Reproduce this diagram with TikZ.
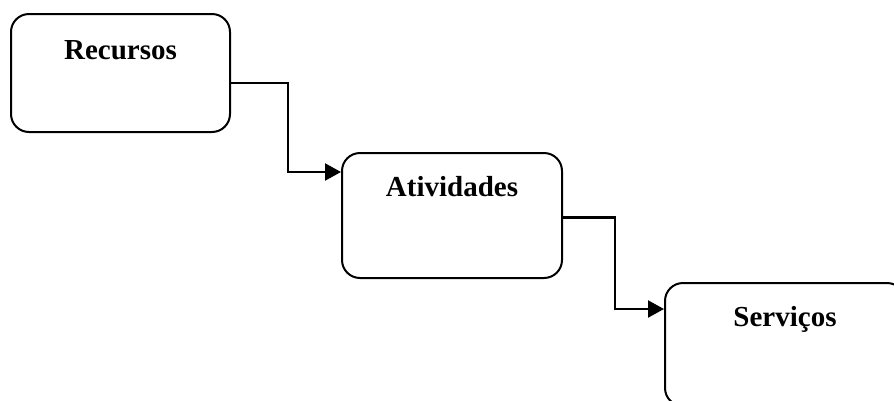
\documentclass[tikz,border=0pt]{standalone}
\usepackage{fontspec}
\setmainfont{Liberation Serif}
\usetikzlibrary{arrows.meta,positioning}

\begin{document}
\begin{tikzpicture}[
		x=1pt, y=-1pt,
		stage/.style={draw, line width=2pt, rounded corners=18pt, anchor=north west, inner sep=0pt, align=center, font=\fontsize{29}{34}\selectfont\bfseries},
		flow/.style={line width=2.2pt, -{Triangle[length=16pt, width=17pt]}},
	]
		\useasboundingbox (0,0) rectangle (894,400);

		\node[stage, minimum width=219pt, text height=45pt, text depth=73pt] (rec) at (10,13) {Recursos};
		\node[stage, minimum width=220pt, text height=43pt, text depth=82pt] (ativ) at (341,152) {Atividades};
		\node[stage, minimum width=240pt, text height=43pt, text depth=80pt] (serv) at (664,282) {Serviços};

		\draw[flow] ([yshift=-10pt]rec.east) -- ++(57,0) |- ([yshift=-20pt]ativ.north west);
		\draw[flow] ([yshift=-2pt]ativ.east) -- ++(52,0) |- ([yshift=-27pt]serv.north west);
	\end{tikzpicture}
\end{document}
